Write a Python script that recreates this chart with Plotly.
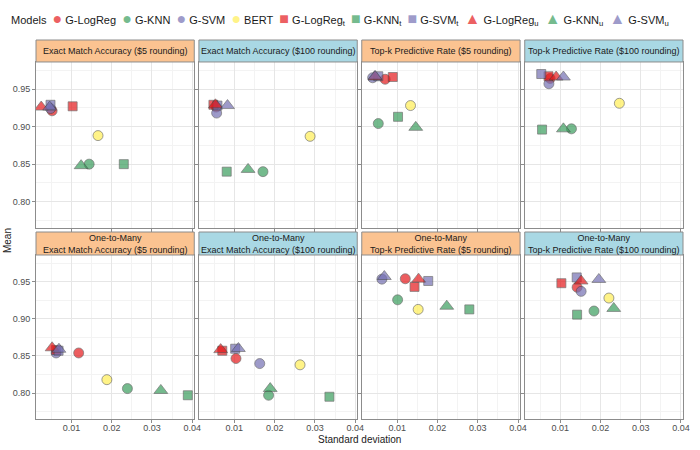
import plotly.graph_objects as go
from plotly.subplots import make_subplots

# facet panels, in reading order (row 1 then row 2); &#36; is a dollar sign
panel_titles = [
    "Exact Match Accuracy (&#36;5 rounding)",
    "Exact Match Accuracy (&#36;100 rounding)",
    "Top-k Predictive Rate (&#36;5 rounding)",
    "Top-k Predictive Rate (&#36;100 rounding)",
    "One-to-Many<br>Exact Match Accuracy (&#36;5 rounding)",
    "One-to-Many<br>Exact Match Accuracy (&#36;100 rounding)",
    "One-to-Many<br>Top-k Predictive Rate (&#36;5 rounding)",
    "One-to-Many<br>Top-k Predictive Rate (&#36;100 rounding)",
]
panel_rounding = ["5", "100", "5", "100", "5", "100", "5", "100"]

models = ["G-LogReg", "G-KNN", "G-SVM", "BERT",
          "G-LogReg<sub>t</sub>", "G-KNN<sub>t</sub>", "G-SVM<sub>t</sub>",
          "G-LogReg<sub>u</sub>", "G-KNN<sub>u</sub>", "G-SVM<sub>u</sub>"]

# standard deviation per model, one value per panel
sd_logreg = [0.0052, 0.0055, 0.0070, 0.0075, 0.0118, 0.0104, 0.0120, 0.0142]
sd_knn = [0.0144, 0.0171, 0.0053, 0.0128, 0.0239, 0.0185, 0.0101, 0.0184]
sd_svm = [0.0048, 0.0056, 0.0039, 0.0072, 0.0062, 0.0163, 0.0062, 0.0152]
sd_bert = [0.0166, 0.0288, 0.0133, 0.0247, 0.0188, 0.0263, 0.0152, 0.0221]
sd_logreg_t = [0.0103, 0.0048, 0.0089, 0.0071, 0.0062, 0.0070, 0.0143, 0.0103]
sd_knn_t = [0.0230, 0.0081, 0.0102, 0.0055, 0.0389, 0.0336, 0.0279, 0.0142]
sd_svm_t = [0.0048, 0.0058, 0.0053, 0.0053, 0.0068, 0.0102, 0.0177, 0.0141]
sd_logreg_u = [0.0025, 0.0053, 0.0045, 0.0090, 0.0052, 0.0066, 0.0153, 0.0152]
sd_knn_u = [0.0124, 0.0134, 0.0146, 0.0108, 0.0322, 0.0189, 0.0223, 0.0233]
sd_svm_u = [0.0046, 0.0083, 0.0045, 0.0108, 0.0069, 0.0110, 0.0068, 0.0196]

# mean per model, one value per panel
mean_logreg = [0.921, 0.926, 0.963, 0.964, 0.854, 0.8465, 0.954, 0.9425]
mean_knn = [0.850, 0.840, 0.904, 0.897, 0.806, 0.797, 0.9256, 0.9105]
mean_svm = [0.924, 0.918, 0.965, 0.957, 0.854, 0.8397, 0.9535, 0.937]
mean_bert = [0.888, 0.887, 0.928, 0.931, 0.818, 0.838, 0.9127, 0.928]
mean_logreg_t = [0.927, 0.929, 0.966, 0.967, 0.858, 0.857, 0.943, 0.948]
mean_knn_t = [0.850, 0.840, 0.913, 0.896, 0.797, 0.795, 0.9127, 0.9056]
mean_svm_t = [0.929, 0.928, 0.967, 0.970, 0.857, 0.8597, 0.951, 0.9558]
mean_logreg_u = [0.926, 0.929, 0.966, 0.966, 0.861, 0.8585, 0.9535, 0.951]
mean_knn_u = [0.848, 0.843, 0.899, 0.897, 0.8035, 0.806, 0.917, 0.914]
mean_svm_u = [0.926, 0.928, 0.967, 0.966, 0.859, 0.860, 0.957, 0.953]

sd_all = [sd_logreg, sd_knn, sd_svm, sd_bert, sd_logreg_t, sd_knn_t, sd_svm_t,
          sd_logreg_u, sd_knn_u, sd_svm_u]
mean_all = [mean_logreg, mean_knn, mean_svm, mean_bert, mean_logreg_t, mean_knn_t,
            mean_svm_t, mean_logreg_u, mean_knn_u, mean_svm_u]

x_ticks = [0.01, 0.02, 0.03, 0.04]
y_ticks = [0.80, 0.85, 0.90, 0.95]

# styling
colors = ["#E41A1C", "#3A9D5D", "#7570B3", "#FFEE55",
          "#E41A1C", "#3A9D5D", "#7570B3",
          "#E41A1C", "#3A9D5D", "#7570B3"]
key_colors = ["#EC6062", "#75BB8E", "#9E9BCA", "#FFF388",
              "#EC6062", "#75BB8E", "#9E9BCA",
              "#EC6062", "#75BB8E", "#9E9BCA"]
symbols = ["circle"] * 4 + ["square"] * 3 + ["triangle-up"] * 3
key_glyphs = ["\u25CF"] * 4 + ["\u25A0"] * 3 + ["\u25B2"] * 3
sizes = [10] * 4 + [9] * 3 + [12] * 3
strip_colors = {"5": "#FBC391", "100": "#A9D8E4"}

FONT = "Liberation Sans, Arial, sans-serif"

fig = make_subplots(rows=2, cols=4, horizontal_spacing=0.007, vertical_spacing=0.0)

col_domains = [(0.0, 0.2446), (0.2518, 0.4965), (0.5035, 0.7482), (0.7554, 1.0)]
row_domains = [(0.504, 0.942), (0.0, 0.4327)]
strip_y = [(0.942, 1.0), (0.4327, 0.4934)]

for p in range(8):
    r, c = p // 4 + 1, p % 4 + 1
    for m in range(len(models)):
        fig.add_trace(
            go.Scatter(
                x=[sd_all[m][p]], y=[mean_all[m][p]],
                mode="markers", name=models[m], showlegend=False,
                marker=dict(symbol=symbols[m], size=sizes[m], color=colors[m],
                            opacity=0.7, line=dict(color="#3C3C3C", width=0.7)),
            ),
            row=r, col=c
        )

    idx = p + 1
    xa = "xaxis" if idx == 1 else f"xaxis{idx}"
    ya = "yaxis" if idx == 1 else f"yaxis{idx}"
    fig.layout[xa].domain = col_domains[c - 1]
    fig.layout[ya].domain = row_domains[r - 1]

    # strip above each panel
    x0, x1 = col_domains[c - 1]
    y0, y1 = strip_y[r - 1]
    fig.add_shape(type="rect", xref="paper", yref="paper", x0=x0, x1=x1, y0=y0, y1=y1,
                  fillcolor=strip_colors[panel_rounding[p]],
                  line=dict(color="#8C8C8C", width=1))
    fig.add_annotation(text=panel_titles[p], xref="paper", yref="paper",
                       x=(x0 + x1) / 2, y=(y0 + y1) / 2, showarrow=False,
                       xanchor="center", yanchor="middle",
                       font=dict(size=9, color="#1A1A1A", family=FONT))

fig.update_xaxes(
    range=[0.0012, 0.0405], tickvals=x_ticks, ticktext=[f"{v:.2f}" for v in x_ticks],
    showgrid=True, gridcolor="#E6E6E6", gridwidth=0.8,
    minor=dict(dtick=0.005, tick0=0, showgrid=True, gridcolor="#F3F3F3", gridwidth=0.6),
    showline=True, mirror=True, linecolor="#8C8C8C", linewidth=1,
    ticks="outside", ticklen=3, tickcolor="#8C8C8C", ticklabelstandoff=-3,
    tickfont=dict(size=9, color="#4D4D4D", family=FONT),
    zeroline=False, showticklabels=False,
)
fig.update_yaxes(
    range=[0.765, 0.986], tickvals=y_ticks, ticktext=[f"{v:.2f}" for v in y_ticks],
    showgrid=True, gridcolor="#E6E6E6", gridwidth=0.8,
    minor=dict(dtick=0.025, tick0=0.775, showgrid=True, gridcolor="#F3F3F3", gridwidth=0.6),
    showline=True, mirror=True, linecolor="#8C8C8C", linewidth=1,
    ticks="outside", ticklen=3, tickcolor="#8C8C8C",
    tickfont=dict(size=9, color="#4D4D4D", family=FONT),
    zeroline=False, showticklabels=False,
)
fig.update_xaxes(showticklabels=True, row=2)
fig.update_yaxes(showticklabels=True, col=1)

fig.add_annotation(text="Standard deviation", xref="paper", yref="paper",
                   x=0.5, y=-0.054, showarrow=False, xanchor="center", yanchor="middle",
                   font=dict(size=10, color="#1A1A1A", family=FONT))
fig.add_annotation(text="Mean", xref="paper", yref="paper",
                   x=-0.043, y=0.47, showarrow=False, textangle=-90,
                   xanchor="center", yanchor="middle",
                   font=dict(size=10, color="#1A1A1A", family=FONT))

# legend row drawn as one line of rich text (plotly's own legend is too wide here)
key_parts = ["Models"]
for m in range(len(models)):
    key_parts.append(
        f"<span style='color:{key_colors[m]};font-size:16px'>{key_glyphs[m]}</span>"
        f"&nbsp;{models[m]}"
    )
legend_text = "&nbsp;&nbsp;".join(key_parts)
fig.add_annotation(text=legend_text, xref="paper", yref="paper",
                   x=-0.041, y=1.055, xanchor="left", yanchor="middle",
                   showarrow=False, font=dict(size=11, color="#1A1A1A", family=FONT))

fig.update_layout(
    width=700, height=450,
    margin=dict(l=36, r=10, t=40, b=31),
    plot_bgcolor="white", paper_bgcolor="white",
    font=dict(family=FONT, color="#1A1A1A"),
    showlegend=False,
)

# drop the page's default body margin so the 700x450 figure sits at the window origin
fig.write_html("out.html", config={"displayModeBar": False},
               post_script="document.body.style.margin='0';")
